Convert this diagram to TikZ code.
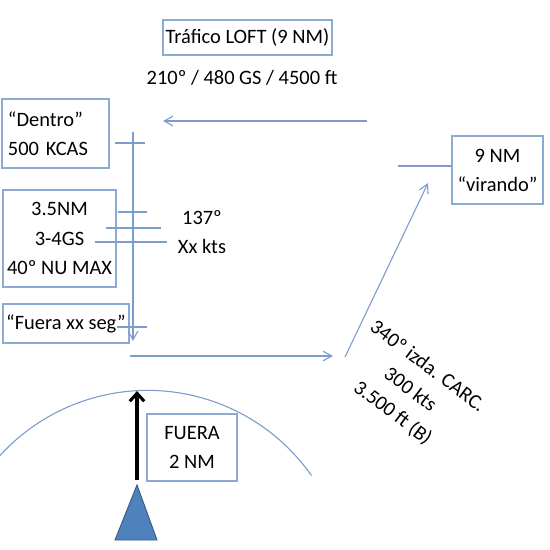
\documentclass[tikz,border=0pt]{standalone}
\usepackage{fontspec}
\setmainfont{Carlito}
\usetikzlibrary{arrows.meta}
\definecolor{linecol}{RGB}{125,158,205}
\definecolor{boxcol}{RGB}{140,170,212}
\definecolor{tricol}{RGB}{79,129,189}
\definecolor{tridraw}{RGB}{56,93,138}

\begin{document}
\begin{tikzpicture}[scale=0.22]
\tikzstyle{every node}+=[font=\fontsize{12.8}{18.2}\selectfont]
\tikzstyle{infobox}=[draw=boxcol, line width=0.8pt, inner sep=0pt, align=center]
\tikzstyle{track}=[linecol, line width=0.7pt]
\tikzstyle{tip}=[-{Straight Barb[length=5.5pt,width=6pt]}]
\useasboundingbox (0,0) rectangle (55,-54.9);
% cajas y textos
\node [infobox, minimum width=105.8pt, minimum height=21.9pt] (loft) at (24.75,-3.75) {Tráfico LOFT (9 NM)};
\node (rumbo) at (24.2,-7.8) {210º / 480 GS / 4500 ft};
\node [infobox, align=left, inner xsep=3.75pt, text width=59.5pt, minimum height=43.2pt] (dentro) at (5.55,-13.35) {“Dentro”\\500 KCAS};
\node [infobox, minimum width=70.7pt, minimum height=60.7pt] (config) at (5.95,-23.85) {3.5NM\\3-4GS\\40º NU MAX};
\node [infobox, minimum width=78.9pt, minimum height=24.4pt] (fuera) at (6.6,-32.35) {“Fuera xx seg”};
\node [infobox, minimum width=57pt, minimum height=42.6pt] (virando) at (49.75,-17) {9 NM\\“virando”};
\node [infobox, minimum width=56.3pt, minimum height=41.9pt] (salida) at (19.2,-44.75) {FUERA\\2 NM};
\node [align=center] (giro) at (20.2,-23.2) {137º\\Xx kts};
\node [align=center, rotate=-37] (carc) at (41.0,-39.0) {340º izda. CARC.\\300 kts\\3.500 ft (B)};
% trayectoria
\coordinate (loftA) at (36.7,-12.1);
\coordinate (loftB) at (16.3,-12.1);
\draw [track, tip] (loftA) -- (loftB);
\coordinate (bajaA) at (13.3,-13.2);
\coordinate (bajaB) at (13.3,-34.1);
\draw [track, tip] (bajaA) -- (bajaB);
\coordinate (saleA) at (13,-35.6);
\coordinate (saleB) at (33.3,-35.6);
\draw [track, tip] (saleA) -- (saleB);
\coordinate (subeA) at (34.5,-35.7);
\coordinate (subeB) at (42.8,-18.3);
\draw [track, tip] (subeA) -- (subeB);
\coordinate (vir) at (39.8,-16.6);
\draw [track] (vir) -- (virando.west |- vir);
% marcas
\draw [track] (11.5,-14.3) -- (14.5,-14.3);
\draw [track] (11.8,-21.2) -- (14.7,-21.2);
\draw [track] (10.6,-22.8) -- (16.1,-22.8);
\draw [track] (9.5,-24.2) -- (16.7,-24.2);
\draw [track] (11.7,-32.7) -- (14.7,-32.7);
% arco de 2 NM
\draw [track] (0,-45.55) arc (137.6:35:20);
% avion
\coordinate (pista) at (13.7,-48);
\coordinate (punta) at (13.7,-39.1);
\draw [black, line width=1.9pt, -{Straight Barb[length=5pt,width=9pt]}] (pista) -- (punta);
\draw [fill=tricol, draw=tridraw, line width=0.6pt] (13.7,-48.5) -- (11.5,-54) -- (15.7,-54) -- cycle;
\end{tikzpicture}
\end{document}
